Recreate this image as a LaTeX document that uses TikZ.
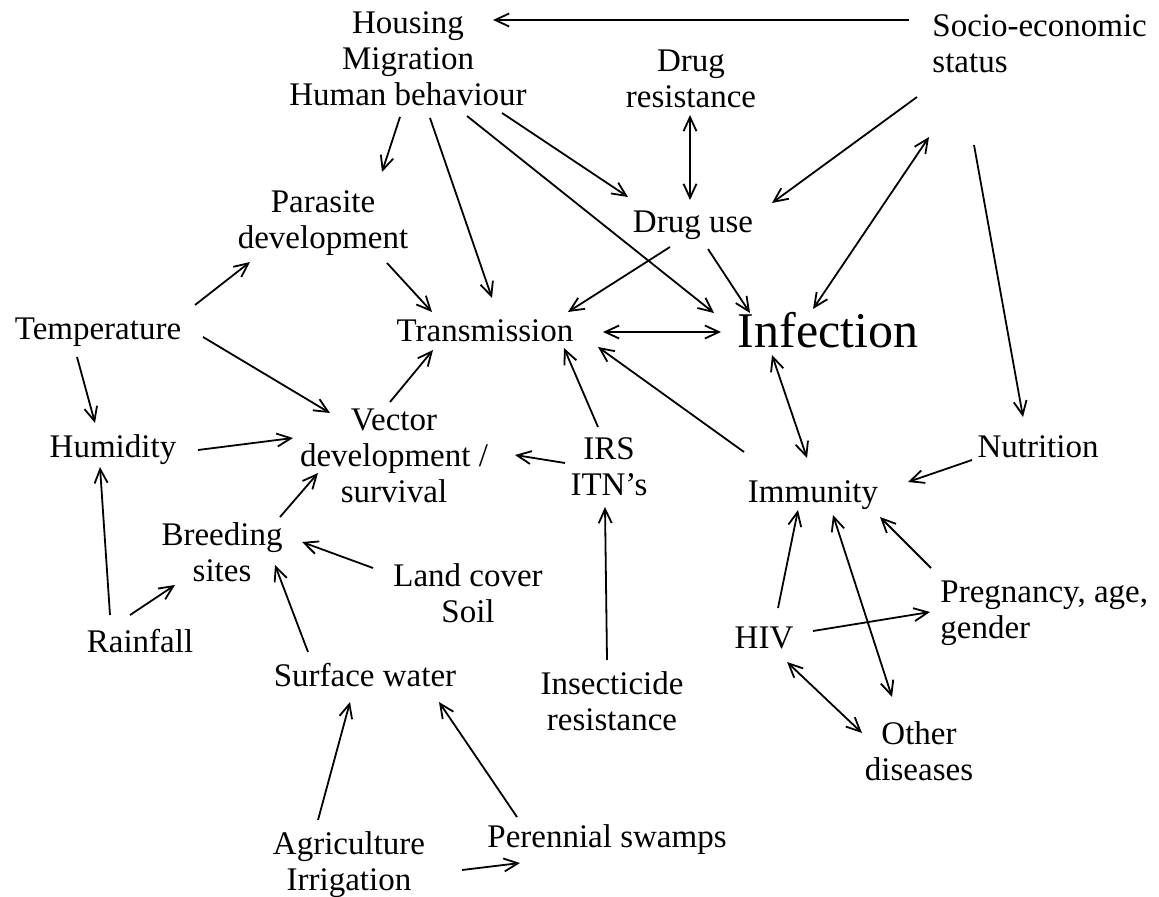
\documentclass[tikz,border=0pt]{standalone}
\usepackage{fontspec}
\setmainfont{Liberation Serif}
\usetikzlibrary{arrows.meta}

\tikzset{
	lbl/.style={font=\fontsize{16.5}{18}\selectfont, align=center, inner sep=0pt, anchor=base},
	big/.style={font=\fontsize{25}{28}\selectfont, inner sep=0pt, anchor=base},
	link/.style={-{Straight Barb[length=7pt,width=6.5pt]}, line width=0.9pt},
	both/.style={{Straight Barb[length=7pt,width=6.5pt]}-{Straight Barb[length=7pt,width=6.5pt]}, line width=0.9pt}
}

\begin{document}
\begin{tikzpicture}[x=0.5pt,y=-0.5pt]
	\useasboundingbox (0,0) rectangle (1159,897);
	% factors (placed at the baseline of their last line)
	\node[lbl] (hous) at (408,106) {Housing\\Migration\\Human behaviour};
	\node[lbl,anchor=base west,align=left] (socio) at (932,73) {Socio-economic\\status};
	\node[lbl] (drugres) at (691,108) {Drug\\resistance};
	\node[lbl] (druguse) at (693,233) {Drug use};
	\node[lbl] (para) at (323,249) {Parasite\\development};
	\node[lbl] (temp) at (98,340) {Temperature};
	\node[lbl] (trans) at (485,342) {Transmission};
	\node[big] (infec) at (828,348) {Infection};
	\node[lbl] (nutr) at (1038,457) {Nutrition};
	\node[lbl] (immun) at (813,502) {Immunity};
	\node[lbl] (irs) at (609,495) {IRS\\ITN’s};
	\node[lbl] (vector) at (394,502) {Vector\\development /\\survival};
	\node[lbl] (humid) at (113,457) {Humidity};
	\node[lbl] (breed) at (222,581) {Breeding\\sites};
	\node[lbl] (land) at (468,622) {Land cover\\Soil};
	\node[lbl] (rain) at (140,652) {Rainfall};
	\node[lbl] (surf) at (365,686) {Surface water};
	\node[lbl] (insect) at (612,730) {Insecticide\\resistance};
	\node[lbl] (agri) at (349,890) {Agriculture\\Irrigation};
	\node[lbl] (peren) at (607,847) {Perennial swamps};
	\node[lbl] (hiv) at (764,648) {HIV};
	\node[lbl,anchor=base west,align=left] (preg) at (940,638) {Pregnancy, age,\\gender};
	\node[lbl] (other) at (919,780) {Other\\diseases};
	% socio-economic links
	\draw[link] ([shift={(-23,-53)}]socio.base west) -- ([shift={(85,-86)}]hous.base);
	\draw[link] ([shift={(-15,24)}]socio.base west) -- ([shift={(79,-30)}]druguse.base);
	\draw[link] ([shift={(42,72)}]socio.base west) -- ([shift={(-15,-40)}]nutr.base);
	\draw[both] ([shift={(-3,64)}]socio.base west) -- ([shift={(-15,-39)}]infec.base);
	% human side
	\draw[both] ([shift={(-1,7)}]drugres.base) -- ([shift={(-3,-33)}]druguse.base);
	\draw[link] ([shift={(-8,11)}]hous.base) -- ([shift={(59,-77)}]para.base);
	\draw[link] ([shift={(22,12)}]hous.base) -- ([shift={(7,-44)}]trans.base);
	\draw[link] ([shift={(94,7)}]hous.base) -- ([shift={(-65,-36)}]druguse.base);
	\draw[link] ([shift={(59,10)}]hous.base) -- ([shift={(-114,-35)}]infec.base);
	\draw[link] ([shift={(-23,14)}]druguse.base) -- ([shift={(83,-30)}]trans.base);
	\draw[link] ([shift={(15,16)}]druguse.base) -- ([shift={(-78,-35)}]infec.base);
	\draw[link] ([shift={(64,14)}]para.base) -- ([shift={(-53,-30)}]trans.base);
	% climate
	\draw[link] ([shift={(97,-35)}]temp.base) -- ([shift={(-73,13)}]para.base);
	\draw[link] ([shift={(105,-3)}]temp.base) -- ([shift={(-64,-89)}]vector.base);
	\draw[link] ([shift={(-21,17)}]temp.base) -- ([shift={(-18,-34)}]humid.base);
	\draw[link] ([shift={(85,-7)}]humid.base) -- ([shift={(-101,-64)}]vector.base);
	\draw[link] ([shift={(-30,-37)}]rain.base) -- ([shift={(-13,10)}]humid.base);
	\draw[link] ([shift={(-10,-37)}]rain.base) -- ([shift={(-47,4)}]breed.base);
	% infection and immunity
	\draw[both] ([shift={(118,-10)}]trans.base) -- ([shift={(-107,-16)}]infec.base);
	\draw[both] ([shift={(-56,7)}]infec.base) -- ([shift={(-6,-44)}]immun.base);
	\draw[link] ([shift={(-69,-50)}]immun.base) -- ([shift={(113,5)}]trans.base);
	\draw[link] ([shift={(-66,3)}]nutr.base) -- ([shift={(95,-20)}]immun.base);
	% vector
	\draw[link] ([shift={(-4,-100)}]vector.base) -- ([shift={(-52,8)}]trans.base);
	\draw[link] ([shift={(-11,-68)}]irs.base) -- ([shift={(79,6)}]trans.base);
	\draw[link] ([shift={(-44,-32)}]irs.base) -- ([shift={(121,-47)}]vector.base);
	\draw[link] ([shift={(-5,-70)}]insect.base) -- ([shift={(-4,12)}]irs.base);
	\draw[link] ([shift={(58,-64)}]breed.base) -- ([shift={(-76,-29)}]vector.base);
	\draw[link] ([shift={(-95,-54)}]land.base) -- ([shift={(80,-39)}]breed.base);
	% water
	\draw[link] ([shift={(-57,-34)}]surf.base) -- ([shift={(53,-16)}]breed.base);
	\draw[link] ([shift={(-31,-70)}]agri.base) -- ([shift={(-15,16)}]surf.base);
	\draw[link] ([shift={(-90,-30)}]peren.base) -- ([shift={(74,16)}]surf.base);
	\draw[link] ([shift={(113,-20)}]agri.base) -- ([shift={(-87,16)}]peren.base);
	% hiv
	\draw[link] ([shift={(14,-40)}]hiv.base) -- ([shift={(-15,8)}]immun.base);
	\draw[link] ([shift={(49,-17)}]hiv.base) -- ([shift={(-10,-26)}]preg.base west);
	\draw[both] ([shift={(23,14)}]hiv.base) -- ([shift={(-57,-47)}]other.base);
	\draw[both] ([shift={(20,13)}]immun.base) -- ([shift={(-27,-83)}]other.base);
	\draw[link] ([shift={(-9,-70)}]preg.base west) -- ([shift={(67,15)}]immun.base);
\end{tikzpicture}
\end{document}
